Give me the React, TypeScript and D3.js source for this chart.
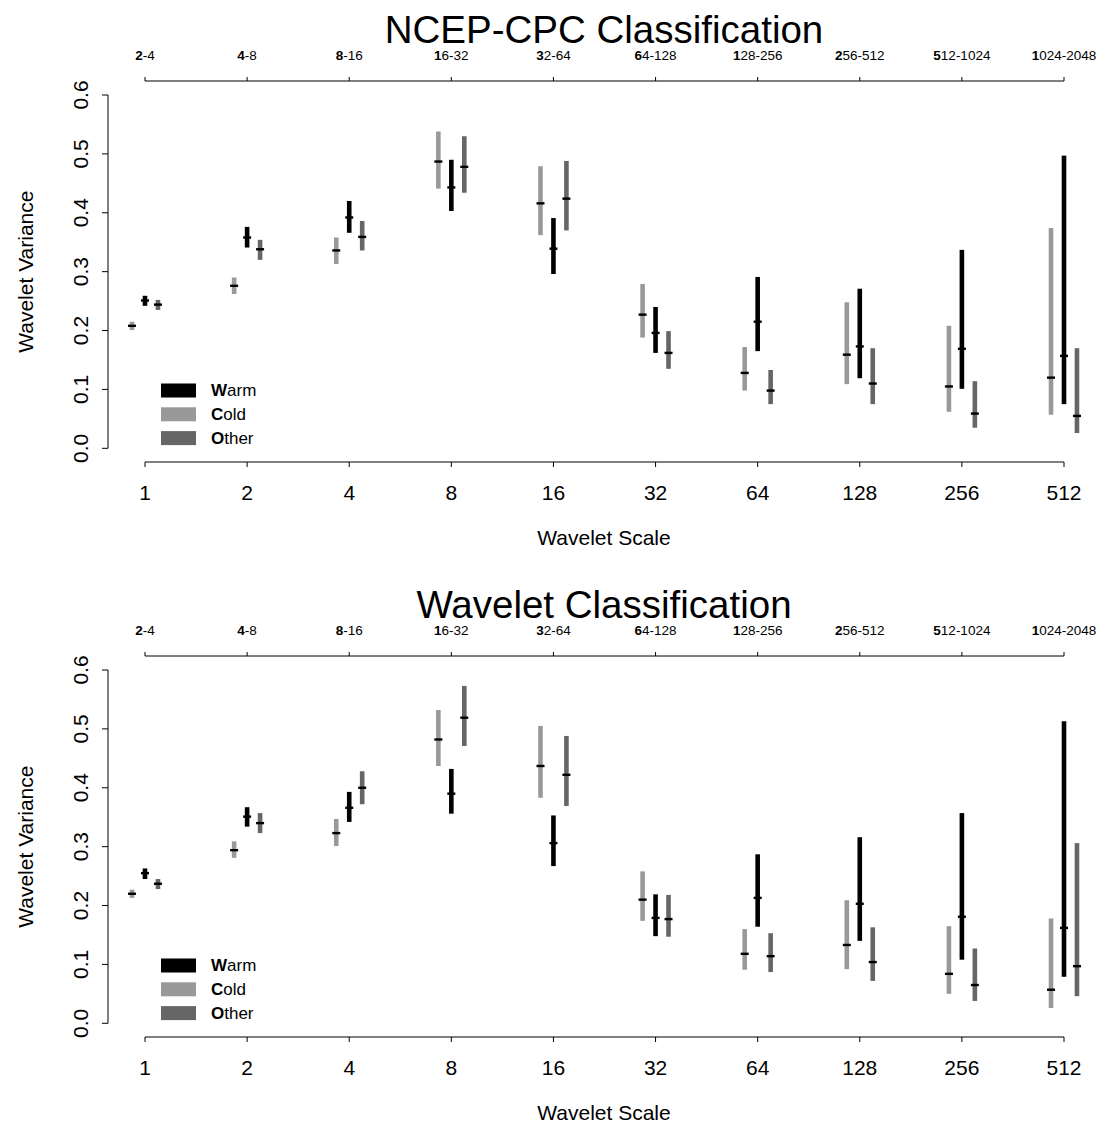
import React from "react";
import * as d3 from "d3";

const scaleLabels = ["1", "2", "4", "8", "16", "32", "64", "128", "256", "512"];
const periodLabels = [
  "2-4", "4-8", "8-16", "16-32", "32-64", "64-128",
  "128-256", "256-512", "512-1024", "1024-2048",
];
const yTicks = [0, 0.1, 0.2, 0.3, 0.4, 0.5, 0.6];

// NCEP-CPC classification
const ncepColdMed = [0.208, 0.276, 0.336, 0.487, 0.416, 0.227, 0.128, 0.159, 0.105, 0.12];
const ncepColdLo = [0.201, 0.262, 0.313, 0.441, 0.362, 0.188, 0.098, 0.109, 0.062, 0.057];
const ncepColdHi = [0.215, 0.29, 0.358, 0.538, 0.479, 0.279, 0.172, 0.248, 0.208, 0.374];
const ncepWarmMed = [0.251, 0.358, 0.392, 0.443, 0.339, 0.196, 0.215, 0.173, 0.169, 0.157];
const ncepWarmLo = [0.242, 0.341, 0.366, 0.403, 0.296, 0.162, 0.165, 0.119, 0.101, 0.075];
const ncepWarmHi = [0.259, 0.376, 0.42, 0.49, 0.391, 0.24, 0.291, 0.271, 0.337, 0.497];
const ncepOtherMed = [0.244, 0.338, 0.359, 0.478, 0.424, 0.162, 0.098, 0.11, 0.059, 0.055];
const ncepOtherLo = [0.235, 0.32, 0.336, 0.434, 0.37, 0.135, 0.075, 0.075, 0.035, 0.026];
const ncepOtherHi = [0.252, 0.354, 0.386, 0.53, 0.488, 0.199, 0.133, 0.17, 0.114, 0.17];

// Wavelet classification
const wavColdMed = [0.22, 0.294, 0.323, 0.482, 0.437, 0.21, 0.118, 0.133, 0.084, 0.057];
const wavColdLo = [0.213, 0.281, 0.301, 0.437, 0.383, 0.174, 0.091, 0.092, 0.05, 0.026];
const wavColdHi = [0.227, 0.309, 0.347, 0.532, 0.505, 0.258, 0.16, 0.209, 0.165, 0.178];
const wavWarmMed = [0.255, 0.351, 0.366, 0.39, 0.306, 0.179, 0.213, 0.203, 0.181, 0.162];
const wavWarmLo = [0.245, 0.334, 0.342, 0.356, 0.267, 0.148, 0.164, 0.14, 0.108, 0.079];
const wavWarmHi = [0.263, 0.367, 0.393, 0.432, 0.353, 0.219, 0.287, 0.316, 0.357, 0.513];
const wavOtherMed = [0.237, 0.34, 0.4, 0.519, 0.422, 0.177, 0.114, 0.104, 0.065, 0.097];
const wavOtherLo = [0.228, 0.323, 0.372, 0.471, 0.369, 0.147, 0.087, 0.072, 0.038, 0.046];
const wavOtherHi = [0.245, 0.357, 0.428, 0.573, 0.488, 0.218, 0.153, 0.163, 0.127, 0.306];

const classNames = ["Warm", "Cold", "Other"];
const classColors = ["#000000", "#999999", "#666666"];

const FONT = "'Liberation Sans', Arial, Helvetica, sans-serif";

type Series = { name: string; color: string; shift: number; med: number[]; lo: number[]; hi: number[] };

const panels = [
  {
    title: "NCEP-CPC Classification",
    offset: 0,
    series: [
      { name: "Cold", color: "#999999", shift: -0.127, med: ncepColdMed, lo: ncepColdLo, hi: ncepColdHi },
      { name: "Warm", color: "#000000", shift: 0, med: ncepWarmMed, lo: ncepWarmLo, hi: ncepWarmHi },
      { name: "Other", color: "#666666", shift: 0.127, med: ncepOtherMed, lo: ncepOtherLo, hi: ncepOtherHi },
    ] as Series[],
  },
  {
    title: "Wavelet Classification",
    offset: 575,
    series: [
      { name: "Cold", color: "#999999", shift: -0.127, med: wavColdMed, lo: wavColdLo, hi: wavColdHi },
      { name: "Warm", color: "#000000", shift: 0, med: wavWarmMed, lo: wavWarmLo, hi: wavWarmHi },
      { name: "Other", color: "#666666", shift: 0.127, med: wavOtherMed, lo: wavOtherLo, hi: wavOtherHi },
    ] as Series[],
  },
];

const x = d3.scaleLinear().domain([0, 9]).range([145, 1064]);

function Panel({ title, offset, series }: { title: string; offset: number; series: Series[] }) {
  const y = d3.scaleLinear().domain([0, 0.6]).range([448.3 + offset, 95 + offset]);
  const topAxisY = 81 + offset;
  const botAxisY = 462 + offset;
  const yAxisX = 108;
  const idx = d3.range(scaleLabels.length);

  return (
    <g fontFamily={FONT}>
      <text x={604} y={43 + offset} fontSize={38.5} textAnchor="middle">{title}</text>

      {/* top axis: periods */}
      <line x1={x(0)} x2={x(9)} y1={topAxisY} y2={topAxisY} stroke="#000" strokeWidth={1} />
      {idx.map((i) => (
        <g key={"t" + i}>
          <line x1={x(i)} x2={x(i)} y1={topAxisY} y2={topAxisY - 4} stroke="#000" />
          <text x={x(i)} y={60 + offset} fontSize={13.5} textAnchor="middle">
            <tspan fontWeight="bold">{periodLabels[i][0]}</tspan>
            {periodLabels[i].slice(1)}
          </text>
        </g>
      ))}

      {/* bottom axis: scales */}
      <line x1={x(0)} x2={x(9)} y1={botAxisY} y2={botAxisY} stroke="#000" strokeWidth={1} />
      {idx.map((i) => (
        <g key={"b" + i}>
          <line x1={x(i)} x2={x(i)} y1={botAxisY} y2={botAxisY + 5} stroke="#000" />
          <text x={x(i)} y={500 + offset} fontSize={21} textAnchor="middle">{scaleLabels[i]}</text>
        </g>
      ))}
      <text x={604} y={545 + offset} fontSize={21} textAnchor="middle">Wavelet Scale</text>

      {/* left axis */}
      <line x1={yAxisX} x2={yAxisX} y1={y(0)} y2={y(0.6)} stroke="#000" />
      {yTicks.map((t) => (
        <g key={"y" + t}>
          <line x1={yAxisX} x2={yAxisX - 6} y1={y(t)} y2={y(t)} stroke="#000" />
          <text
            transform={`translate(${88},${y(t)}) rotate(-90)`}
            fontSize={21}
            textAnchor="middle"
          >
            {t.toFixed(1)}
          </text>
        </g>
      ))}
      <text
        transform={`translate(${33},${y(0.3)}) rotate(-90)`}
        fontSize={21}
        textAnchor="middle"
      >
        Wavelet Variance
      </text>

      {/* intervals and medians */}
      {series.map((s) =>
        idx.map((i) => {
          const cx = x(i + s.shift);
          return (
            <g key={s.name + i}>
              <rect x={cx - 2.3} width={4.6} y={y(s.hi[i])} height={y(s.lo[i]) - y(s.hi[i])} fill={s.color} />
              <rect x={cx - 4} width={8} y={y(s.med[i]) - 1.2} height={2.4} fill="#000" />
            </g>
          );
        })
      )}

      {/* legend */}
      {classNames.map((n, k) => (
        <g key={n}>
          <rect x={161} y={383.5 + offset + k * 23.8} width={35} height={14} fill={classColors[k]} />
          <text x={211} y={396 + offset + k * 23.8} fontSize={17}>
            <tspan fontWeight="bold">{n[0]}</tspan>
            {n.slice(1)}
          </text>
        </g>
      ))}
    </g>
  );
}

export default function App() {
  return (
    <div style={{ position: "absolute", left: 0, top: 0 }}>
      <svg width={1102} height={1123} style={{ display: "block", background: "#fff" }}>
        {panels.map((p) => (
          <Panel key={p.title} title={p.title} offset={p.offset} series={p.series} />
        ))}
      </svg>
    </div>
  );
}
